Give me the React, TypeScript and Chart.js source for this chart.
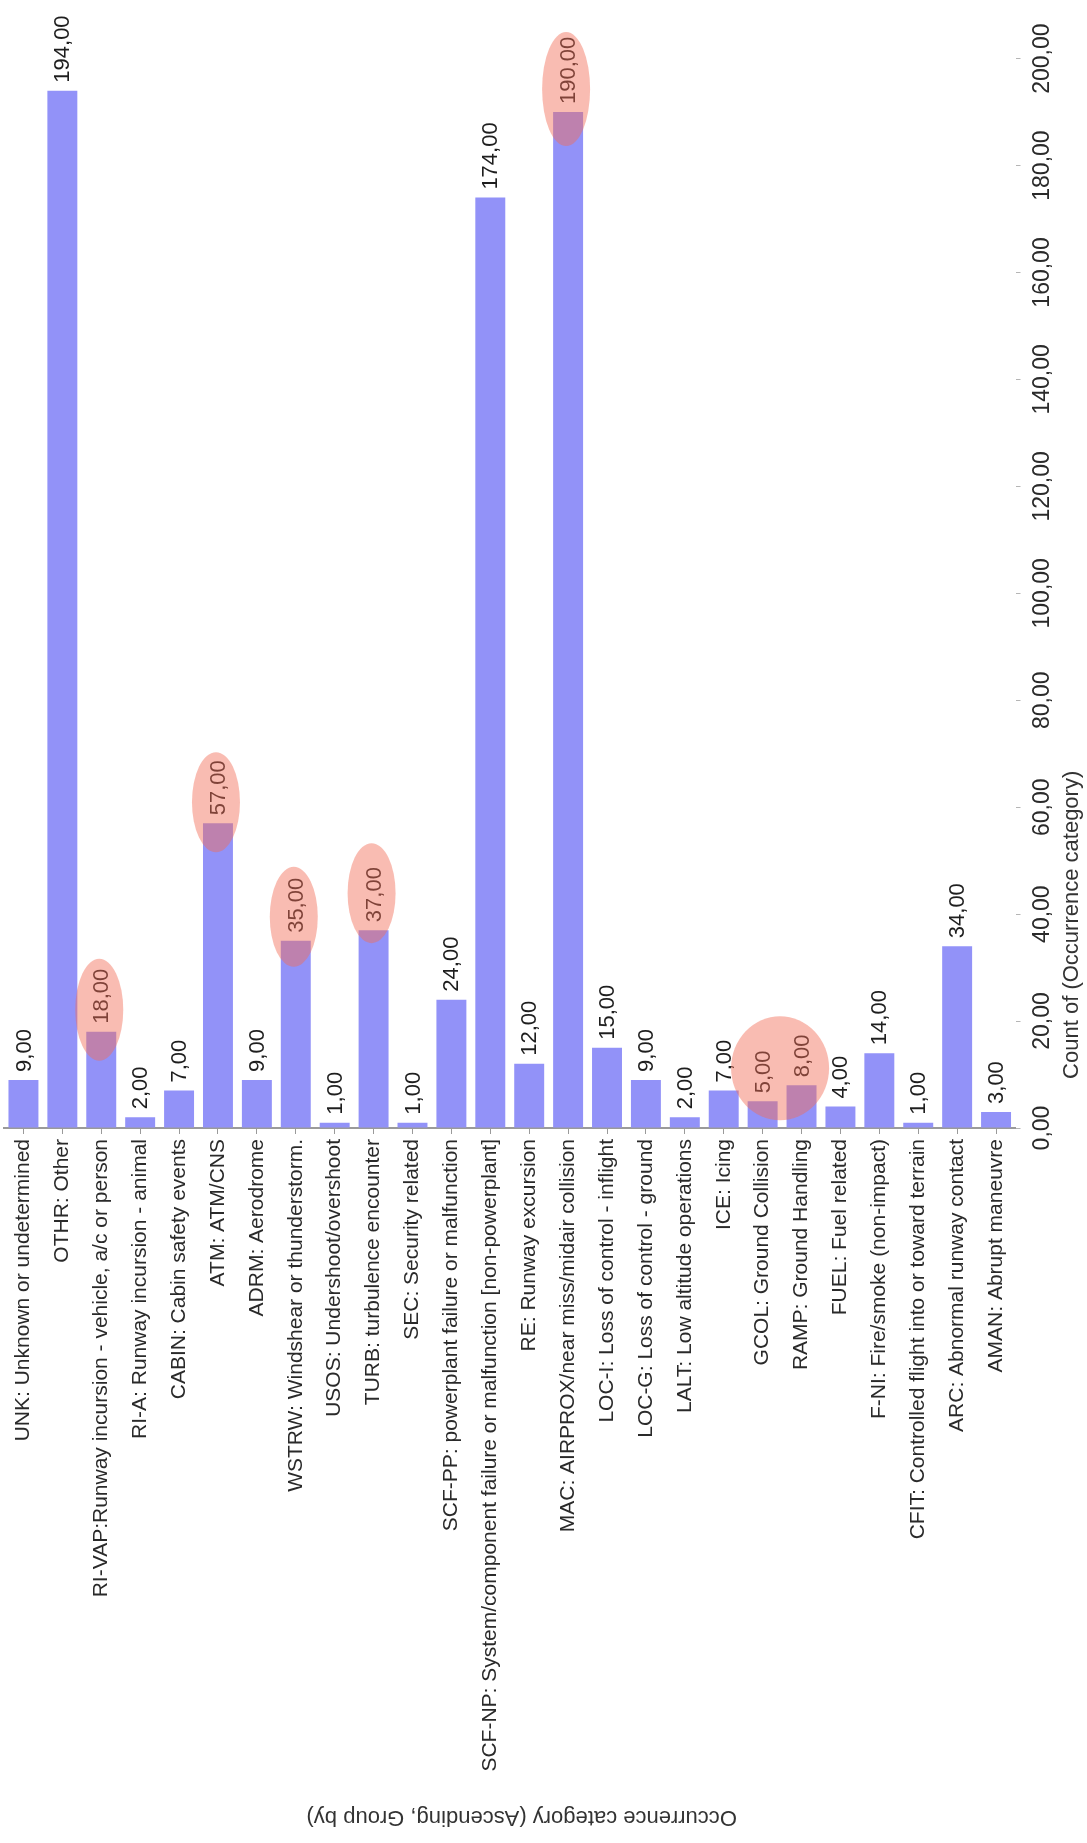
import React, { useEffect, useRef } from 'react';
import { Chart, registerables } from 'chart.js';

Chart.register(...registerables);

// ---------- data ----------
const CATEGORIES: string[] = [
  'UNK: Unknown or undetermined',
  'OTHR: Other',
  'RI-VAP:Runway incursion - vehicle, a/c or person',
  'RI-A: Runway incursion - animal',
  'CABIN: Cabin safety events',
  'ATM: ATM/CNS',
  'ADRM: Aerodrome',
  'WSTRW: Windshear or thunderstorm.',
  'USOS: Undershoot/overshoot',
  'TURB: turbulence encounter',
  'SEC: Security related',
  'SCF-PP: powerplant failure or malfunction',
  'SCF-NP: System/component failure or malfunction [non-powerplant]',
  'RE: Runway excursion',
  'MAC: AIRPROX/near miss/midair collision',
  'LOC-I: Loss of control - inflight',
  'LOC-G: Loss of control - ground',
  'LALT: Low altitude operations',
  'ICE: Icing',
  'GCOL: Ground Collision',
  'RAMP: Ground Handling',
  'FUEL: Fuel related',
  'F-NI: Fire/smoke (non-impact)',
  'CFIT: Controlled flight into or toward terrain',
  'ARC: Abnormal runway contact',
  'AMAN: Abrupt maneuvre',
];

const COUNTS: number[] = [9, 194, 18, 2, 7, 57, 9, 35, 1, 37, 1, 24, 174, 12, 190, 15, 9, 2, 7, 5, 8, 4, 14, 1, 34, 3];

const VALUE_MIN = 0;
const VALUE_MAX = 200;
const VALUE_STEP = 20;

const VALUE_TITLE = 'Count of (Occurrence category)';
const CATEGORY_TITLE = 'Occurrence category (Ascending, Group by)';

// highlighted bars (indices into CATEGORIES)
const HIGHLIGHTS = [
  { indices: [2], lift: 22, rx: 24, ry: 51 },
  { indices: [5], lift: 21, rx: 24, ry: 50 },
  { indices: [7], lift: 24, rx: 24, ry: 50 },
  { indices: [9], lift: 37, rx: 24, ry: 50 },
  { indices: [14], lift: 23, rx: 24, ry: 57 },
  { indices: [19, 20], lift: 17, rx: 49, ry: 52 },
];

// ---------- style ----------
const FONT = '"Liberation Sans", Arial, sans-serif';
const BAR_COLOR = 'rgb(146,146,248)';
const TEXT_COLOR = '#1e1e1e';
const HIGHLIGHT_FILL = 'rgba(242,108,88,0.46)';

const fmt = (v: number) => v.toFixed(2).replace('.', ',');

const overlayPlugin = {
  id: 'overlay',
  afterDatasetsDraw(chart: any) {
    const ctx = chart.ctx;
    const meta = chart.getDatasetMeta(0);
    ctx.save();
    ctx.font = `22px ${FONT}`;
    ctx.fillStyle = TEXT_COLOR;
    meta.data.forEach((el: any, i: number) => {
      ctx.save();
      ctx.translate(el.x + 1, el.y - 8);
      ctx.rotate(-Math.PI / 2);
      ctx.textAlign = 'left';
      ctx.textBaseline = 'middle';
      ctx.fillText(fmt(COUNTS[i]), 0, 0);
      ctx.restore();
    });
    ctx.restore();
  },
  afterDraw(chart: any) {
    const ctx = chart.ctx;
    const meta = chart.getDatasetMeta(0);
    const area = chart.chartArea;

    // highlight ellipses
    ctx.save();
    ctx.fillStyle = HIGHLIGHT_FILL;
    HIGHLIGHTS.forEach((h) => {
      const els = h.indices.map((i) => meta.data[i]);
      const cx = els.reduce((s: number, e: any) => s + e.x, 0) / els.length - 2;
      const top = Math.min(...els.map((e: any) => e.y));
      const cy = top - h.lift;
      ctx.beginPath();
      ctx.ellipse(cx, cy, h.rx, h.ry, 0, 0, Math.PI * 2);
      ctx.fill();
    });
    ctx.restore();

    // value-axis title (right, reading bottom-to-top)
    const yScale = chart.scales.y;
    ctx.save();
    ctx.font = `22px ${FONT}`;
    ctx.fillStyle = '#333';
    ctx.translate(yScale.right - 15, yScale.getPixelForValue(38));
    ctx.rotate(-Math.PI / 2);
    ctx.textAlign = 'center';
    ctx.textBaseline = 'middle';
    ctx.fillText(VALUE_TITLE, 0, 0);
    ctx.restore();

    // category-axis title (bottom, upside down)
    const xScale = chart.scales.x;
    ctx.save();
    ctx.font = `22px ${FONT}`;
    ctx.fillStyle = '#333';
    ctx.translate((area.left + area.right) / 2 + 12, xScale.bottom - 26);
    ctx.rotate(Math.PI);
    ctx.textAlign = 'center';
    ctx.textBaseline = 'middle';
    ctx.fillText(CATEGORY_TITLE, 0, 0);
    ctx.restore();
  },
};

export default function App() {
  const canvasRef = useRef<HTMLCanvasElement | null>(null);

  useEffect(() => {
    const canvas = canvasRef.current;
    if (!canvas) return;
    const chart = new Chart(canvas, {
      type: 'bar',
      data: {
        labels: CATEGORIES,
        datasets: [
          {
            data: COUNTS,
            backgroundColor: BAR_COLOR,
            borderWidth: 0,
            barPercentage: 0.77,
            categoryPercentage: 1,
          },
        ],
      },
      options: {
        responsive: false,
        maintainAspectRatio: false,
        animation: false,
        devicePixelRatio: 1,
        layout: { padding: { left: 4, top: 58.6, right: 0, bottom: 0 } },
        plugins: {
          legend: { display: false },
          tooltip: { enabled: false },
          title: { display: false },
        },
        scales: {
          x: {
            type: 'category',
            position: 'bottom',
            offset: true,
            afterFit: (scale: any) => {
              scale.height = 715;
            },
            border: { display: true, color: '#9a9a9a', width: 2 },
            grid: {
              display: true,
              offset: false,
              drawOnChartArea: false,
              drawTicks: true,
              tickLength: 6,
              color: '#9a9a9a',
              lineWidth: 1,
            },
            ticks: {
              autoSkip: false,
              minRotation: 90,
              maxRotation: 90,
              padding: 5,
              color: '#2a2a2a',
              font: { family: FONT, size: 21 },
            },
          },
          y: {
            type: 'linear',
            position: 'right',
            min: VALUE_MIN,
            max: VALUE_MAX,
            afterFit: (scale: any) => {
              scale.width = 71.5;
            },
            border: { display: false },
            grid: {
              display: true,
              drawOnChartArea: false,
              drawTicks: true,
              tickLength: 5,
              color: '#b5b5b5',
            },
            ticks: {
              stepSize: VALUE_STEP,
              minRotation: 90,
              maxRotation: 90,
              crossAlign: 'center',
              padding: -13,
              color: '#2a2a2a',
              font: { family: FONT, size: 23 },
              callback: (v: any) => fmt(Number(v)),
            },
          },
        },
      },
      plugins: [overlayPlugin],
    } as any);
    return () => chart.destroy();
  }, []);

  return (
    <div style={{ position: 'absolute', left: 0, top: 0, width: 1087, height: 1843, background: '#fff' }}>
      <canvas ref={canvasRef} width={1087} height={1843} style={{ display: 'block', width: 1087, height: 1843 }} />
    </div>
  );
}
